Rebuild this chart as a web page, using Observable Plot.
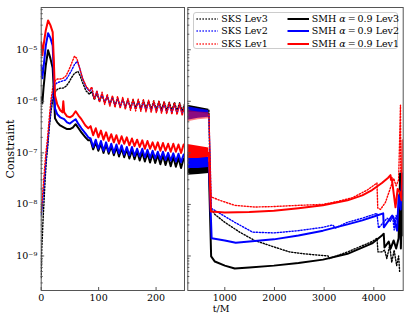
<!DOCTYPE html>
<html><head><meta charset="utf-8">
<script src="https://cdn.jsdelivr.net/npm/d3@7"></script>
<script src="https://cdn.jsdelivr.net/npm/@observablehq/plot@0.6"></script>
<style>
html,body{margin:0;padding:0;background:#fff;}
#wrap{position:relative;width:415px;height:319px;overflow:hidden;font-family:"DejaVu Serif",serif;color:#000;}
#left,#right{position:absolute;top:0;}
#left{left:0;} #right{left:185px;}
#ylab{position:absolute;left:10px;top:148.5px;transform:translate(-50%,-50%) rotate(-90deg);font-size:11px;white-space:nowrap;}
#xlab{position:absolute;left:212.7px;top:304px;font-size:9.5px;line-height:1;}
#legend{position:absolute;left:193.3px;top:11.7px;width:204.7px;height:37.3px;box-sizing:border-box;border:1px solid #ccc;border-radius:3px;background:rgba(255,255,255,0.85);font-size:9.5px;}
.lg{position:absolute;white-space:nowrap;line-height:1;}
.lg svg{position:absolute;top:-3px;}
</style></head><body>
<div id="wrap"><div id="left"></div><div id="right"></div><div id="ylab">Constraint</div><div id="xlab">t/M</div><div id="legend"></div></div>
<script>
// ---------- data ----------
const yDomain = [2.14e-10, 6.6e-5];
const majorY = [1e-9, 1e-8, 1e-7, 1e-6, 1e-5];
const leftTicks = [0, 100, 200];
const rightTicks = [1000, 2000, 3000, 4000];
const legendLabels = ["SKS Lev3", "SKS Lev2", "SKS Lev1", "SMH <i>α</i>&#8201;=&#8201;0.9 Lev3", "SMH <i>α</i>&#8201;=&#8201;0.9 Lev2", "SMH <i>α</i>&#8201;=&#8201;0.9 Lev1"];

// Left panel (0-250): early parts [t, value]
const smh1Early = [[0,1.4e-5],[2,7.8e-6],[4,1.2e-5],[8,2.4e-5],[12,3.7e-5],[16,3.0e-5],[20,2.2e-5],[22,6.2e-6],[24,1.3e-6],[28,8.7e-7],[33,6.7e-7],[37,6.1e-7],[38.5,1.0e-6],[40,6.1e-7],[45,5.1e-7],[50,4.9e-7],[55,5.3e-7],[60,6.4e-7],[65,5.3e-7],[70,4.5e-7],[77,3.4e-7],[82,3.0e-7]];
const smh2Early = [[0,5.0e-6],[2,2.8e-6],[5,5.7e-6],[8,1.2e-5],[12,2.1e-5],[16,1.7e-5],[20,1.2e-5],[22,3.2e-6],[24,7.3e-7],[28,5.6e-7],[33,4.9e-7],[40,4.5e-7],[45,3.9e-7],[50,3.7e-7],[55,4.1e-7],[60,4.5e-7],[65,3.6e-7],[70,3.0e-7],[77,2.4e-7],[82,2.0e-7]];
const smh3Early = [[0,1.2e-6],[2,9.1e-7],[4,1.8e-6],[8,5.0e-6],[12,9.8e-6],[16,6.8e-6],[20,4.4e-6],[22,1.6e-6],[24,4.7e-7],[28,3.9e-7],[33,3.4e-7],[40,3.1e-7],[45,2.9e-7],[50,2.9e-7],[55,3.1e-7],[60,3.6e-7],[65,3.0e-7],[70,2.5e-7],[77,2.0e-7],[82,1.75e-7]];
const sks1Early = [[0,7.0e-9],[1,9.6e-9],[3,1.9e-8],[5,3.7e-8],[7,7.1e-8],[9,1.2e-7],[11,1.9e-7],[14,4.7e-7],[17,1.05e-6],[20,1.8e-6],[24,2.5e-6],[28,2.7e-6],[33,2.7e-6],[38,2.8e-6],[43,3.1e-6],[48,4.0e-6],[53,5.5e-6],[58,7.5e-6],[62,6.8e-6],[66,4.8e-6],[72,2.8e-6],[78,2.0e-6],[84,1.6e-6]];
const sks2Early = [[0,6.4e-9],[1,7.6e-9],[3,1.2e-8],[5,2.4e-8],[7,4.6e-8],[9,9.0e-8],[11,1.4e-7],[14,3.4e-7],[17,8.0e-7],[20,1.4e-6],[24,2.1e-6],[28,2.3e-6],[33,2.4e-6],[38,2.5e-6],[43,2.6e-6],[48,3.2e-6],[53,4.0e-6],[58,5.2e-6],[63,6.0e-6],[67,4.4e-6],[72,2.8e-6],[78,1.9e-6],[84,1.56e-6]];
const sks3Early = [[0,3.8e-10],[0.5,7.5e-10],[1,1.4e-9],[2,2.3e-9],[3,4.5e-9],[5,1.2e-8],[7,3.2e-8],[9,7.1e-8],[11,1.2e-7],[14,3.0e-7],[17,6.1e-7],[20,1.05e-6],[24,1.5e-6],[28,1.7e-6],[33,1.8e-6],[38,1.8e-6],[43,1.95e-6],[48,2.3e-6],[53,2.9e-6],[58,3.5e-6],[64,3.8e-6],[68,3.1e-6],[72,2.3e-6],[78,1.6e-6],[84,1.37e-6]];

// Left panel oscillating tails: times and values
const oscT = [86,90.5,95,99.5,104,108.5,113,117.5,122,126.5,131,135.5,140,144.5,149,153.5,158,162.5,167,171.5,176,180.5,185,189.5,194,198.5,203,207.5,212,216.5,221,225.5,230,234.5,239,243.5,248];
const sksT = [88,92.5,97,101.5,106,110.5,115,119.5,124,128.5,133,137.5,142,146.5,151,155.5,160,164.5,169,173.5,178,182.5,187,191.5,196,200.5,205,209.5,214,218.5,223,227.5,232,236.5,241,245.5,250];
const smh1Osc = [3.3e-7,2.2e-7,3.0e-7,2.0e-7,2.7e-7,1.8e-7,2.5e-7,1.7e-7,2.3e-7,1.6e-7,2.2e-7,1.5e-7,2.1e-7,1.5e-7,2.0e-7,1.4e-7,1.9e-7,1.35e-7,1.8e-7,1.3e-7,1.75e-7,1.2e-7,1.7e-7,1.2e-7,1.6e-7,1.15e-7,1.6e-7,1.1e-7,1.55e-7,1.1e-7,1.5e-7,1.05e-7,1.5e-7,1.05e-7,1.45e-7,1.0e-7,1.45e-7];
const smh2Osc = [1.9e-7,1.3e-7,1.8e-7,1.2e-7,1.7e-7,1.1e-7,1.6e-7,1.05e-7,1.5e-7,1.0e-7,1.45e-7,9.8e-8,1.4e-7,9.3e-8,1.3e-7,9.0e-8,1.3e-7,8.7e-8,1.2e-7,8.5e-8,1.2e-7,8.2e-8,1.15e-7,8.0e-8,1.1e-7,7.8e-8,1.05e-7,7.5e-8,1.05e-7,7.3e-8,1.0e-7,7.1e-8,9.8e-8,6.8e-8,9.6e-8,6.6e-8,9.3e-8];
const smh3Osc = [1.75e-7,1.17e-7,1.6e-7,1.1e-7,1.5e-7,1.0e-7,1.45e-7,9.6e-8,1.34e-7,9.0e-8,1.28e-7,8.5e-8,1.22e-7,8.2e-8,1.17e-7,7.8e-8,1.12e-7,7.5e-8,1.07e-7,7.1e-8,1.02e-7,6.8e-8,9.8e-8,6.5e-8,9.6e-8,6.4e-8,9.1e-8,6.0e-8,9.0e-8,5.8e-8,8.5e-8,5.5e-8,8.4e-8,5.4e-8,8.0e-8,5.1e-8,7.8e-8];
const sks1Osc = [1.9e-6,1.1e-6,1.6e-6,9.6e-7,1.5e-6,8.7e-7,1.37e-6,8.0e-7,1.3e-6,7.6e-7,1.25e-6,7.3e-7,1.2e-6,7.0e-7,1.14e-6,6.7e-7,1.1e-6,6.5e-7,1.1e-6,6.4e-7,1.07e-6,6.25e-7,1.05e-6,6.1e-7,1.02e-6,6.0e-7,1.0e-6,5.85e-7,9.8e-7,5.7e-7,9.6e-7,5.6e-7,9.35e-7,5.5e-7,9.1e-7,5.3e-7,8.9e-7];
const sks2Osc = [1.8e-6,1.14e-6,1.56e-6,1.02e-6,1.4e-6,9.35e-7,1.28e-6,8.7e-7,1.2e-6,8.2e-7,1.14e-6,7.8e-7,1.09e-6,7.5e-7,1.05e-6,7.15e-7,1.02e-6,7.0e-7,1.0e-6,6.8e-7,9.8e-7,6.7e-7,9.6e-7,6.55e-7,9.35e-7,6.4e-7,9.1e-7,6.25e-7,8.9e-7,6.1e-7,8.7e-7,6.0e-7,8.5e-7,5.85e-7,8.4e-7,5.7e-7,8.2e-7];
const sks3Osc = [1.56e-6,1.07e-6,1.43e-6,1.0e-6,1.34e-6,9.35e-7,1.25e-6,8.7e-7,1.2e-6,8.4e-7,1.14e-6,8.0e-7,1.1e-6,7.8e-7,1.09e-6,7.6e-7,1.07e-6,7.5e-7,1.05e-6,7.3e-7,1.05e-6,7.3e-7,1.02e-6,7.15e-7,1.02e-6,7.0e-7,1.0e-6,7.0e-7,9.8e-7,6.8e-7,9.6e-7,6.7e-7,9.6e-7,6.7e-7,9.35e-7,6.55e-7,9.1e-7];

// Right panel (250-4600): dense oscillation bands (envelopes)
const bandT = [255, 470, 680];
const sks3Hi = [8.4e-7, 7.7e-7, 7.0e-7], sks3Lo = [6.1e-7, 6.1e-7, 5.6e-7];
const sks2Hi = [7.8e-7, 7.2e-7, 6.6e-7], sks2Lo = [4.3e-7, 4.7e-7, 4.9e-7];
const sks1Hi = [6.6e-7, 6.2e-7, 6.0e-7], sks1Lo = [4.0e-7, 4.4e-7, 4.6e-7];
const smh3Hi = [6.0e-8, 5.7e-8, 5.4e-8], smh3Lo = [3.7e-8, 3.8e-8, 4.0e-8];
const smh2Hi = [9.3e-8, 8.5e-8, 8.2e-8], smh2Lo = [5.0e-8, 5.0e-8, 5.2e-8];
const smh1Hi = [1.45e-7, 1.34e-7, 1.24e-7], smh1Lo = [7.8e-8, 7.8e-8, 8.2e-8];

// Right panel lines [t, value]
const smh1Right = [[680,1.0e-7],[720,7.3e-9],[1000,7.0e-9],[1494,7.1e-9],[1988,7.5e-9],[2483,8.4e-9],[2977,9.6e-9],[3471,1.2e-8],[3768,1.5e-8],[3966,1.9e-8],[4163,2.6e-8],[4290,3.3e-8],[4336,3.7e-8],[4345,3.0e-8],[4360,3.3e-8],[4437,8.8e-9],[4480,2.0e-8],[4530,1.7e-8],[4560,1.2e-8],[4580,1.75e-7],[4590,2.5e-8]];
const sks1Right = [[680,5.6e-7],[725,1.4e-8],[900,1.2e-8],[1200,9.6e-9],[1600,8.9e-9],[1988,9.1e-9],[2483,9.6e-9],[2977,1.0e-8],[3274,1.14e-8],[3570,1.35e-8],[3867,1.9e-8],[4064,2.6e-8],[4080,8.5e-9],[4135,8.0e-9],[4235,1.1e-8],[4336,2.1e-8],[4400,3.2e-8],[4450,2.3e-8],[4500,3.0e-8],[4537,8.4e-7],[4545,2.5e-8]];
const smh2Right = [[680,6.5e-8],[735,2.2e-9],[1000,2.0e-9],[1220,1.8e-9],[1494,1.9e-9],[1988,2.1e-9],[2483,2.5e-9],[2977,3.1e-9],[3471,4.1e-9],[3768,4.9e-9],[4064,6.1e-9],[4189,6.7e-9],[4202,3.6e-9],[4370,6.1e-9],[4397,5.6e-9],[4470,3.1e-9],[4500,1.5e-8],[4540,8.0e-9],[4575,4.0e-8],[4590,1.5e-8]];
const sks2Right = [[680,5.3e-7],[728,8.4e-9],[900,6.7e-9],[1200,4.5e-9],[1560,2.9e-9],[1988,2.8e-9],[2483,3.1e-9],[2977,3.6e-9],[3170,4.0e-9],[3230,3.5e-9],[3471,4.5e-9],[3768,5.4e-9],[4064,6.7e-9],[4094,3.5e-9],[4270,5.4e-9],[4336,4.7e-9],[4380,6.0e-9],[4410,3.2e-9],[4450,6.1e-9],[4500,3.4e-9],[4540,2.0e-9]];
const smh3Right = [[680,4.6e-8],[695,1.2e-8],[725,9.8e-10],[800,7.8e-10],[1000,6.5e-10],[1200,5.7e-10],[1494,6.0e-10],[1988,6.5e-10],[2483,7.3e-10],[2977,8.5e-10],[3471,1.1e-9],[3966,1.75e-9],[4163,2.5e-9],[4200,2.7e-9],[4215,1.46e-9],[4300,1.9e-9],[4340,1.4e-9],[4400,2.0e-9],[4450,1.4e-9],[4500,2.2e-9],[4530,4.0e-8],[4545,1.4e-9],[4575,1.8e-8],[4590,2.5e-9]];
const sks3Right = [[680,6.7e-7],[715,8.4e-9],[800,6.4e-9],[1000,4.5e-9],[1300,2.9e-9],[1600,2.0e-9],[1988,1.5e-9],[2300,1.2e-9],[2600,1.1e-9],[2977,1.02e-9],[3080,1.0e-9],[3100,8.9e-10],[3471,1.2e-9],[3966,1.9e-9],[4064,2.2e-9],[4084,1.2e-9],[4163,1.2e-9],[4220,1.3e-9],[4262,8.9e-10],[4320,1.6e-9],[4361,7.5e-10],[4410,1.3e-9],[4460,6.5e-10],[4500,1.0e-9],[4520,5.0e-10]];

// ---------- build ----------
const toRows = a => a.map(([t, v]) => ({t, v}));
const withOsc = (early, ts, vs) => toRows(early).concat(ts.map((t, i) => ({t, v: vs[i]})));
const band = (hi, lo) => bandT.map((t, i) => ({t, hi: hi[i], lo: lo[i]}));

const minorY = [];
for (let e = -10; e <= -5; e++) for (let m = 2; m <= 9; m++) { const v = m * 10 ** e; if (v > yDomain[0] && v < yDomain[1]) minorY.push(v); }
const supMap = {"-": "\u207B", "0": "\u2070", "1": "\u00B9", "2": "\u00B2", "3": "\u00B3", "4": "\u2074", "5": "\u2075", "6": "\u2076", "7": "\u2077", "8": "\u2078", "9": "\u2079"};
const fmtPow = v => "10" + String(Math.round(Math.log10(v))).split("").map(c => supMap[c]).join("");

const DOT = {strokeDasharray: "1.3,1.7", strokeWidth: 1.4};
const SOL = {strokeWidth: 2};
const ln = (data, color, st) => Plot.line(data, {x: "t", y: "v", stroke: color, clip: true, strokeLinejoin: "round", ...st});
const ar = (data, color, op) => Plot.areaY(data, {x: "t", y1: "lo", y2: "hi", fill: color, fillOpacity: op, clip: true});
const style = {fontFamily: "DejaVu Serif", fontSize: "9.5px", color: "#000", background: "transparent", overflow: "visible"};

const leftPlot = Plot.plot({
  width: 186, height: 319, marginLeft: 40.7, marginRight: 2, marginTop: 7, marginBottom: 29,
  style,
  x: {domain: [0, 249.5]},
  y: {type: "log", domain: yDomain},
  marks: [
    ln(withOsc(sks3Early, sksT, sks3Osc), "black", DOT),
    ln(withOsc(sks2Early, sksT, sks2Osc), "blue", DOT),
    ln(withOsc(sks1Early, sksT, sks1Osc), "red", DOT),
    ln(withOsc(smh3Early, oscT, smh3Osc), "black", SOL),
    ln(withOsc(smh2Early, oscT, smh2Osc), "blue", SOL),
    ln(withOsc(smh1Early, oscT, smh1Osc), "red", SOL),
    Plot.frame({stroke: "#555", strokeWidth: 1}),
    Plot.axisX({ticks: leftTicks, tickSize: -3, tickPadding: 7, tickFormat: d => String(d), label: null, stroke: "#555"}),
    Plot.axisY({ticks: majorY, tickSize: -3.5, tickPadding: 7.5, tickFormat: fmtPow, label: null, stroke: "#555"}),
    Plot.axisY({ticks: minorY, tickSize: -2, tickFormat: () => "", label: null, stroke: "#555"})
  ]
});
document.getElementById("left").append(leftPlot);

const rightPlot = Plot.plot({
  width: 230, height: 319, marginLeft: 2.3, marginRight: 12.3, marginTop: 7, marginBottom: 29,
  style,
  x: {domain: [255, 4592]},
  y: {type: "log", domain: yDomain},
  marks: [
    ar(band(sks3Hi, sks3Lo), "black", 1),
    ar(band(sks2Hi, sks2Lo), "blue", 0.9),
    ar(band(sks1Hi, sks1Lo), "red", 0.5),
    ln(toRows(sks3Right), "black", DOT),
    ln(toRows(sks2Right), "blue", DOT),
    ln(toRows(sks1Right), "red", DOT),
    ar(band(smh3Hi, smh3Lo), "black", 1),
    ar(band(smh2Hi, smh2Lo), "blue", 1),
    ar(band(smh1Hi, smh1Lo), "red", 1),
    ln(toRows(smh3Right), "black", SOL),
    ln(toRows(smh2Right), "blue", SOL),
    ln(toRows(smh1Right), "red", SOL),
    Plot.frame({stroke: "#555", strokeWidth: 1}),
    Plot.axisX({ticks: rightTicks, tickSize: -3, tickPadding: 7, tickFormat: d => String(d), label: null, stroke: "#555"}),
    Plot.axisY({ticks: majorY, tickSize: -3.5, tickFormat: () => "", label: null, stroke: "#555"}),
    Plot.axisY({ticks: minorY, tickSize: -2, tickFormat: () => "", label: null, stroke: "#555"})
  ]
});
document.getElementById("right").append(rightPlot);

// legend
const legColors = ["black", "blue", "red", "black", "blue", "red"];
const leg = document.getElementById("legend");
legendLabels.forEach((lab, i) => {
  const col = i < 3 ? 0 : 1, row = i % 3;
  const dotted = i < 3;
  const d = document.createElement("div");
  d.className = "lg";
  d.style.left = (col ? 93 : 1.5) + "px";
  d.style.top = (1.5 + row * 12.3) + "px";
  d.innerHTML = `<svg width="23" height="10" style="left:0"><line x1="0.5" y1="8" x2="22" y2="8" stroke="${legColors[i]}" stroke-width="${dotted ? 1.4 : 2}" ${dotted ? 'stroke-dasharray="1.3,1.7"' : ""}/></svg><span style="position:relative;left:${col ? 24.5 : 25.5}px;top:0">${lab}</span>`;
  leg.append(d);
});
</script>
</body></html>
